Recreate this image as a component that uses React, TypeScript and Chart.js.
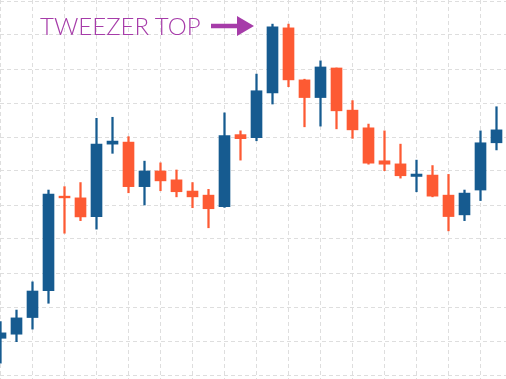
import React, { useEffect, useRef } from "react";
import { Chart, registerables } from "chart.js";

Chart.register(...registerables);

// Candle index (1..32)
const candleIndex: number[] = Array.from({ length: 32 }, (_, i) => i + 1);

const opens: number[] = [
  10.8, 12.0, 16.9, 24.8, 52.6, 52.1, 46.6, 67.9, 68.5, 55.4, 60.0, 57.4, 54.1, 52.9, 49.5, 70.7,
  69.8, 83.0, 102.1, 86.8, 81.6, 90.3, 77.9, 72.7, 63.0, 62.1, 58.4, 58.8, 52.9, 47.1, 54.4, 68.3,
];
const highs: number[] = [
  15.7, 19.1, 27.4, 54.4, 55.4, 56.6, 75.5, 75.8, 70.1, 62.9, 62.4, 60.3, 56.6, 54.6, 77.1, 71.8,
  88.5, 103.2, 103.2, 87.0, 92.4, 90.3, 80.7, 73.8, 71.8, 67.9, 63.2, 61.6, 59.0, 54.4, 71.8, 78.9,
];
const lows: number[] = [
  3.5, 9.8, 13.5, 21.1, 41.7, 45.4, 42.9, 65.2, 53.6, 50.0, 54.2, 52.4, 49.2, 43.3, 49.3, 63.2,
  68.9, 79.7, 84.8, 73.0, 73.2, 72.4, 69.6, 62.0, 60.1, 57.9, 53.9, 52.4, 42.4, 45.4, 51.3, 66.2,
];
const closes: number[] = [
  12.4, 16.8, 24.7, 53.2, 52.1, 46.5, 67.9, 68.8, 55.4, 60.0, 57.1, 53.9, 52.4, 48.9, 70.4, 69.5,
  83.6, 102.4, 86.8, 81.6, 90.6, 77.7, 72.1, 62.3, 62.0, 58.6, 59.1, 52.6, 46.6, 53.5, 68.3, 72.1,
];

const gridX: number[] = [1, 3, 5, 7, 9, 11, 13, 15, 17, 19, 21, 23, 25, 27, 29, 31];
const gridY: number[] = [0, 10, 20, 30, 40, 50, 60, 70, 80, 90, 100, 110];

const annotationText = "TWEEZER TOP";

const UP = "#165b90";
const DOWN = "#fd5a33";
const PURPLE = "#a63ca9";

export default function App() {
  const ref = useRef<HTMLCanvasElement | null>(null);

  useEffect(() => {
    document.body.style.margin = "0";
    const canvas = ref.current;
    if (!canvas) return;
    const colors = candleIndex.map((_, i) => (closes[i] >= opens[i] ? UP : DOWN));
    const chart = new Chart(canvas, {
      type: "bar",
      data: {
        datasets: [
          {
            label: "body",
            data: candleIndex.map((x, i) => ({ x, y: [opens[i], closes[i]] })) as any,
            backgroundColor: colors,
            borderWidth: 0,
            barThickness: 11,
            grouped: false,
            order: 0,
          } as any,
          {
            label: "wick",
            data: candleIndex.map((x, i) => ({ x, y: [lows[i], highs[i]] })) as any,
            backgroundColor: colors,
            borderWidth: 0,
            barThickness: 1.6,
            grouped: false,
            order: 1,
          } as any,
        ],
      },
      options: {
        responsive: false,
        animation: false,
        devicePixelRatio: 1,
        layout: { padding: 0 },
        plugins: { legend: { display: false }, tooltip: { enabled: false } },
        scales: {
          x: {
            type: "linear",
            offset: false,
            min: 1 - 0.5 / 16,
            max: 1 - 0.5 / 16 + 506 / 16,
            afterBuildTicks: (axis: any) => {
              axis.ticks = gridX.map((v) => ({ value: v }));
            },
            ticks: { display: false },
            grid: { color: "#dedede", lineWidth: 1, drawTicks: false, offset: false },
            border: { display: false, dash: [4, 3] },
          },
          y: {
            type: "linear",
            min: -4 / 3.4,
            max: 375 / 3.4,
            afterBuildTicks: (axis: any) => {
              axis.ticks = gridY.map((v) => ({ value: v }));
            },
            ticks: { display: false },
            grid: { color: "#dedede", lineWidth: 1, drawTicks: false },
            border: { display: false, dash: [4, 3] },
          },
        },
      } as any,
    });
    return () => chart.destroy();
  }, []);

  return (
    <div style={{ position: "fixed", left: 0, top: 0, width: 506, height: 379, background: "#fff" }}>
      <canvas ref={ref} width={506} height={379} style={{ position: "absolute", left: 0, top: 0 }} />
      <div
        style={{
          position: "absolute",
          left: 40,
          top: 14,
          fontFamily: "Lato, 'Open Sans', sans-serif",
          fontWeight: 300,
          fontSize: 24,
          lineHeight: "24px",
          color: PURPLE,
          whiteSpace: "nowrap",
        }}
      >
        {annotationText}
      </div>
      <svg
        width={506}
        height={60}
        style={{ position: "absolute", left: 0, top: 0, pointerEvents: "none" }}
      >
        <rect x={211} y={23.75} width={28} height={4.5} fill={PURPLE} />
        <polygon points="237,16 254,26 237,36" fill={PURPLE} />
      </svg>
    </div>
  );
}
